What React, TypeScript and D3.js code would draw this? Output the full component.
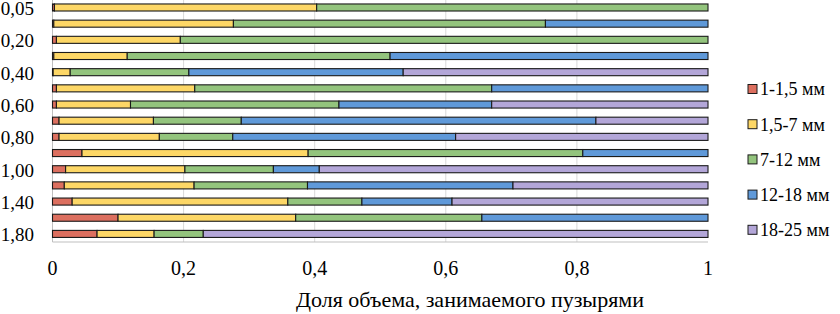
import React from "react";
import * as d3 from "d3";

const categories = ["0,05","0,10","0,20","0,30","0,40","0,50","0,60","0,70","0,80","0,90","1,00","1,20","1,40","1,60","1,80"];
const shownLabels = ["0,05","0,20","0,40","0,60","0,80","1,00","1,40","1,80"];
const seriesNames = ["1-1,5 мм","1,5-7 мм","7-12 мм","12-18 мм","18-25 мм"];
const red =    [0.003,0.002,0.006,0.002,0.001,0.006,0.006,0.010,0.010,0.045,0.020,0.018,0.030,0.100,0.068];
const yellow = [0.400,0.274,0.189,0.112,0.026,0.211,0.113,0.144,0.153,0.345,0.182,0.198,0.329,0.271,0.087];
const green =  [0.597,0.476,0.805,0.401,0.181,0.453,0.318,0.134,0.112,0.419,0.135,0.173,0.113,0.284,0.075];
const blue =   [0,0.248,0,0.485,0.327,0.330,0.233,0.541,0.340,0.191,0.070,0.3135,0.1375,0.345,0];
const purple = [0,0,0,0,0.465,0,0.330,0.171,0.385,0,0.593,0.2975,0.3905,0,0.770];
const xTicks = [0,0.2,0.4,0.6,0.8,1];
const xTickLabels = ["0","0,2","0,4","0,6","0,8","1"];
const axisTitle = "Доля объема, занимаемого пузырями";

const colors = ["#dc6f5f","#fdd766","#93c47d","#5f99d9","#b3a6d8"];
const FONT = "Liberation Serif, Tinos, Times New Roman, DejaVu Serif, serif";

export default function App() {
  const x0 = 52.5, x1 = 708, yTop = -0.6, yBot = 242;
  const x = d3.scaleLinear().domain([0, 1]).range([x0, x1]);
  const y = d3.scaleBand<string>().domain(categories).range([yTop, yBot]).paddingInner(0.565).paddingOuter(0.2825);
  const rows = categories.map((c, i) => ({
    cat: c,
    s0: red[i], s1: yellow[i], s2: green[i], s3: blue[i], s4: purple[i],
  }));
  const keys = ["s0","s1","s2","s3","s4"];
  const stacked = d3.stack<any>().keys(keys)(rows);
  const bw = y.bandwidth();
  const txt = { fontFamily: FONT } as React.CSSProperties;

  return (
    <svg width={840} height={314} style={{ position: "absolute", left: 0, top: 0, background: "#fff", fontFamily: FONT }}>
      {xTicks.slice(1, -1).map((t) => (
        <line key={t} x1={x(t)} x2={x(t)} y1={0} y2={yBot} stroke="#d9d9d9" strokeWidth={1} />
      ))}
      <line x1={x0} x2={x0} y1={0} y2={yBot} stroke="#bfbfbf" strokeWidth={1} />
      <line x1={x0} x2={x1} y1={yBot} y2={yBot} stroke="#bfbfbf" strokeWidth={1} />
      {stacked.map((layer, li) => (
        <g key={li} fill={colors[li]}>
          {layer.map((d: any, i: number) => {
            const w = x(d[1]) - x(d[0]);
            if (w <= 0.01) return null;
            return (
              <rect key={i} x={x(d[0])} y={(y(categories[i]) as number)} width={w} height={bw}
                stroke="#1a1a1a" strokeWidth={1.1} />
            );
          })}
        </g>
      ))}
      {categories.map((c) =>
        shownLabels.includes(c) ? (
          <text key={c} style={txt} x={34} y={(y(c) as number) + bw / 2 + 0.8} dy="0.35em" textAnchor="end" fontSize={19} fill="#000">
            {c}
          </text>
        ) : null
      )}
      {xTicks.map((t, i) => (
        <text key={t} style={txt} x={x(t)} y={275} textAnchor="middle" fontSize={20} fill="#000">
          {xTickLabels[i]}
        </text>
      ))}
      <text style={txt} x={470} y={307} textAnchor="middle" fontSize={22} fill="#000">{axisTitle}</text>
      {seriesNames.map((n, i) => {
        const cy = 89 + i * 35.2;
        return (
          <g key={n}>
            <rect x={748} y={cy - 4.5} width={9} height={9} fill={colors[i]} stroke="#1a1a1a" strokeWidth={1} />
            <text style={txt} x={760} y={cy} dy="0.35em" fontSize={18} fill="#000">{n}</text>
          </g>
        );
      })}
    </svg>
  );
}
